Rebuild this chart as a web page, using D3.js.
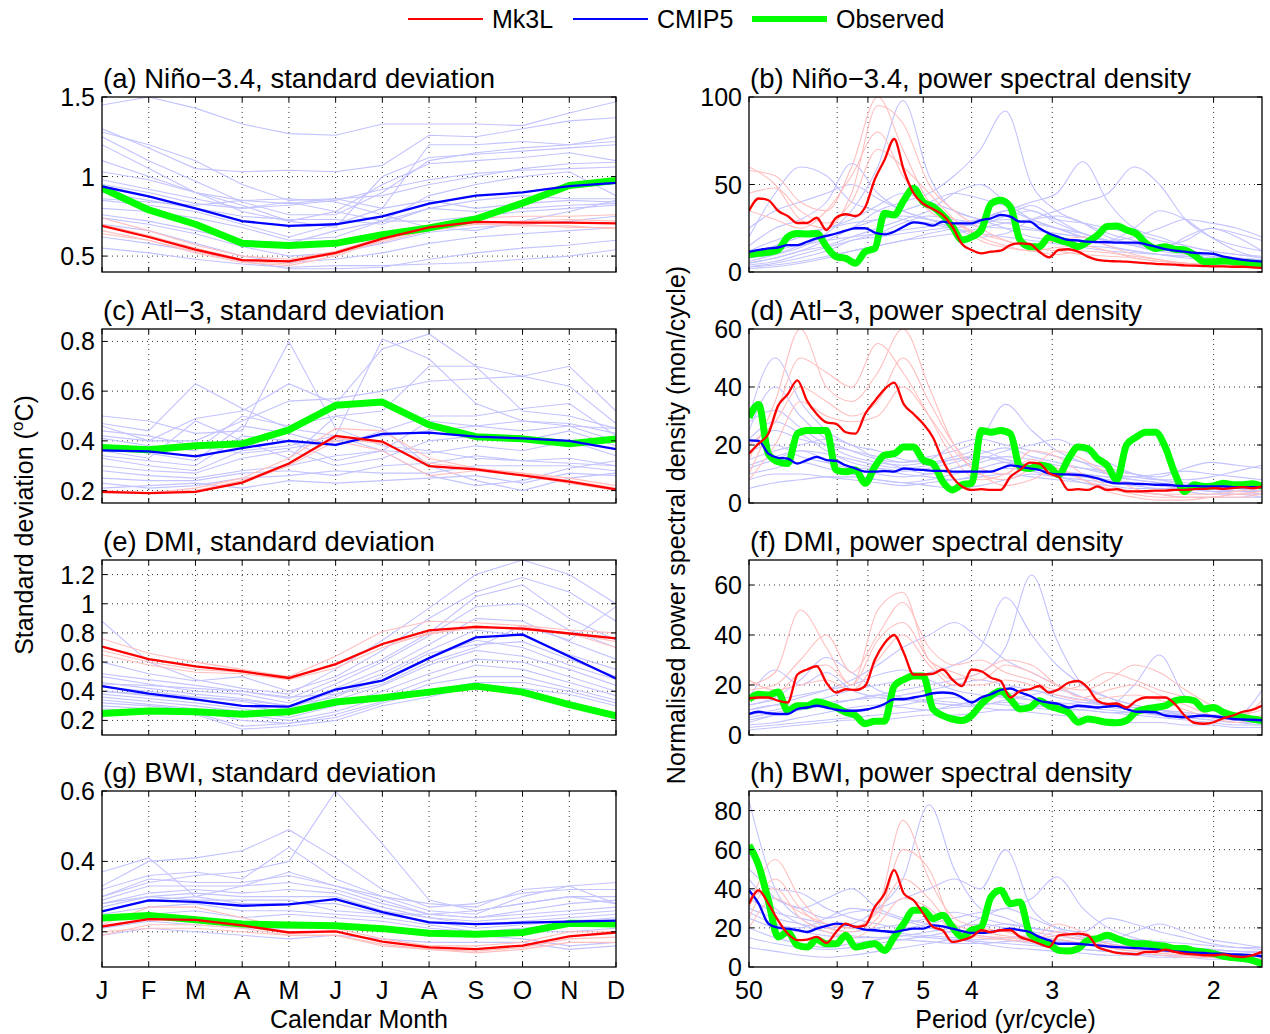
<!DOCTYPE html>
<html>
<head>
<meta charset="utf-8">
<title>Variability</title>
<script src="https://cdn.jsdelivr.net/npm/d3@7"></script>
<style>
  body { margin: 0; background: #fff; }
  svg { font-family: "Liberation Sans", Arial, Helvetica, sans-serif; }
</style>
</head>
<body>
<svg id="chart" width="1270" height="1034"></svg>
<script>
// ---- categories / ticks
var MONTHS = ["J","F","M","A","M","J","J","A","S","O","N","D"];
var PERIOD_TICKS = [50, 9, 7, 5, 4, 3, 2];
// frequency (cycles/yr) where spectra are sampled
var FREQ_FINE = [0.02,0.03,0.04,0.05,0.06,0.07,0.08,0.09,0.10,0.11,0.12,0.13,0.14,0.15,0.16,0.17,0.18,0.19,0.20,0.21,
  0.22,0.23,0.24,0.25,0.26,0.27,0.28,0.29,0.30,0.31,0.32,0.33,0.34,0.35,0.36,0.37,0.38,0.39,0.40,0.41,
  0.42,0.43,0.44,0.45,0.46,0.47,0.48,0.49,0.50,0.51,0.52,0.53,0.54,0.55];
var FREQ_COARSE = [0.02,0.047,0.073,0.1,0.126,0.153,0.179,0.206,0.232,0.259,0.285,0.312,0.338,0.365,0.391,0.418,0.444,0.471,0.497,0.524,0.55];

// ---- (a) Nino-3.4 std dev
var ninoSdObs   = [0.927,0.79,0.70,0.58,0.567,0.58,0.635,0.677,0.733,0.833,0.944,0.975];
var ninoSdCmip5 = [0.9375,0.875,0.80,0.72,0.69,0.70,0.75,0.83,0.88,0.90,0.94,0.96];
var ninoSdMk3l  = [0.69,0.62,0.54,0.475,0.467,0.52,0.61,0.68,0.715,0.71,0.71,0.706];
var ninoSdMembers = [
  [0.74,0.66,0.57,0.50,0.48,0.53,0.62,0.69,0.74,0.75,0.75,0.76],
  [0.66,0.60,0.52,0.46,0.44,0.50,0.60,0.67,0.70,0.70,0.68,0.68],
  [0.70,0.63,0.55,0.48,0.47,0.51,0.61,0.66,0.71,0.72,0.73,0.72],
  [0.64,0.60,0.53,0.47,0.45,0.52,0.59,0.66,0.70,0.69,0.69,0.67]];
var ninoSdModels = [
  [1.45,1.50,1.43,1.33,1.27,1.26,1.33,1.33,1.33,1.32,1.40,1.47],
  [1.30,1.18,1.05,1.03,1.04,1.03,1.07,1.26,1.25,1.30,1.35,1.37],
  [1.28,1.20,1.10,0.95,0.85,0.86,0.80,1.20,1.20,1.22,1.20,1.25],
  [1.25,1.10,0.97,0.84,0.76,0.76,0.90,1.10,1.15,1.18,1.20,1.22],
  [1.20,1.05,0.90,0.78,0.72,0.78,0.95,1.08,1.10,1.12,1.15,1.10],
  [1.03,0.98,0.90,0.85,0.83,0.86,0.88,0.95,1.00,1.05,1.08,1.09],
  [0.98,0.92,0.86,0.80,0.82,0.85,0.92,0.98,1.02,1.04,1.05,1.06],
  [0.95,0.90,0.83,0.80,0.84,0.78,0.72,0.88,0.95,1.00,1.03,0.88],
  [0.90,0.85,0.80,0.75,0.73,0.73,0.70,0.80,0.85,0.88,0.86,0.86],
  [0.85,0.82,0.78,0.70,0.62,0.70,0.80,0.85,0.80,0.83,0.85,0.84],
  [0.80,0.78,0.74,0.68,0.60,0.62,0.72,0.80,0.78,0.80,0.82,0.83],
  [0.76,0.72,0.66,0.60,0.58,0.66,0.72,0.72,0.75,0.78,0.80,0.82],
  [0.74,0.70,0.64,0.56,0.50,0.52,0.58,0.65,0.68,0.70,0.72,0.75],
  [0.70,0.66,0.58,0.50,0.46,0.48,0.52,0.58,0.62,0.64,0.66,0.68],
  [0.62,0.58,0.53,0.47,0.42,0.42,0.43,0.48,0.52,0.55,0.57,0.60],
  [0.55,0.52,0.48,0.45,0.43,0.44,0.44,0.45,0.46,0.48,0.50,0.54],
  [0.86,0.84,0.82,0.85,0.86,0.84,0.76,0.68,0.66,0.72,0.78,0.85],
  [1.10,1.00,0.90,0.82,0.72,0.68,1.00,1.12,1.14,1.16,1.18,1.20]];

// ---- (c) Atl-3 std dev
var atlSdObs   = [0.373,0.364,0.38,0.388,0.444,0.543,0.556,0.464,0.417,0.408,0.388,0.408];
var atlSdCmip5 = [0.362,0.358,0.338,0.371,0.40,0.384,0.428,0.433,0.417,0.41,0.40,0.367];
var atlSdMk3l  = [0.195,0.19,0.195,0.232,0.309,0.42,0.397,0.298,0.285,0.261,0.236,0.205];
var atlSdMembers = [
  [0.20,0.19,0.21,0.25,0.33,0.45,0.44,0.33,0.29,0.27,0.25,0.22],
  [0.19,0.19,0.20,0.23,0.30,0.40,0.36,0.26,0.28,0.26,0.23,0.20],
  [0.20,0.19,0.20,0.24,0.31,0.41,0.39,0.31,0.29,0.27,0.24,0.21]];
var atlSdModels = [
  [0.50,0.48,0.43,0.44,0.80,0.45,0.38,0.36,0.33,0.32,0.31,0.30],
  [0.47,0.44,0.63,0.53,0.45,0.42,0.81,0.73,0.55,0.48,0.46,0.45],
  [0.46,0.40,0.49,0.52,0.63,0.55,0.77,0.83,0.70,0.66,0.70,0.52],
  [0.42,0.40,0.40,0.48,0.56,0.57,0.60,0.64,0.65,0.66,0.62,0.47],
  [0.41,0.38,0.36,0.50,0.46,0.50,0.52,0.70,0.70,0.52,0.50,0.45],
  [0.38,0.35,0.32,0.46,0.43,0.38,0.44,0.50,0.50,0.53,0.55,0.42],
  [0.34,0.32,0.30,0.42,0.40,0.32,0.36,0.48,0.46,0.44,0.46,0.40],
  [0.30,0.28,0.27,0.33,0.36,0.30,0.33,0.40,0.42,0.40,0.44,0.38],
  [0.28,0.26,0.25,0.28,0.30,0.34,0.36,0.35,0.38,0.36,0.40,0.34],
  [0.25,0.24,0.24,0.27,0.28,0.26,0.30,0.31,0.34,0.32,0.33,0.30],
  [0.23,0.21,0.22,0.25,0.26,0.28,0.27,0.27,0.30,0.30,0.30,0.28],
  [0.21,0.22,0.23,0.21,0.24,0.23,0.24,0.25,0.26,0.23,0.27,0.26],
  [0.36,0.33,0.48,0.40,0.33,0.50,0.45,0.30,0.24,0.20,0.25,0.27],
  [0.33,0.30,0.28,0.36,0.38,0.42,0.36,0.26,0.22,0.24,0.29,0.32],
  [0.44,0.42,0.38,0.35,0.37,0.40,0.42,0.44,0.46,0.48,0.47,0.43]];

// ---- (e) DMI std dev
var dmiSdObs   = [0.247,0.265,0.259,0.243,0.259,0.326,0.356,0.394,0.435,0.394,0.308,0.232];
var dmiSdCmip5 = [0.435,0.383,0.345,0.30,0.295,0.412,0.473,0.627,0.769,0.789,0.638,0.487];
var dmiSdMk3l  = [0.706,0.62,0.57,0.536,0.491,0.586,0.724,0.818,0.841,0.83,0.796,0.762];
var dmiSdMembers = [
  [0.76,0.66,0.60,0.55,0.50,0.64,0.81,0.88,0.87,0.85,0.82,0.80],
  [0.65,0.58,0.53,0.52,0.48,0.56,0.70,0.80,0.83,0.84,0.80,0.70],
  [0.68,0.60,0.55,0.53,0.50,0.58,0.72,0.79,0.85,0.82,0.80,0.74]];
var dmiSdModels = [
  [0.88,0.60,0.48,0.42,0.38,0.55,0.75,0.97,1.20,1.30,1.20,1.00],
  [0.60,0.52,0.47,0.50,0.40,0.50,0.68,0.90,1.08,1.18,1.08,0.88],
  [0.52,0.48,0.44,0.40,0.35,0.48,0.62,0.80,1.05,1.13,0.90,0.75],
  [0.50,0.45,0.40,0.38,0.32,0.45,0.60,0.78,0.98,1.00,0.82,0.70],
  [0.46,0.42,0.38,0.35,0.30,0.42,0.55,0.72,0.90,0.88,0.74,0.62],
  [0.43,0.40,0.36,0.33,0.28,0.40,0.52,0.68,0.82,0.78,0.65,0.55],
  [0.40,0.37,0.34,0.30,0.26,0.38,0.48,0.63,0.75,0.70,0.58,0.48],
  [0.38,0.35,0.32,0.28,0.24,0.34,0.44,0.58,0.68,0.64,0.55,0.44],
  [0.36,0.33,0.30,0.26,0.22,0.30,0.40,0.52,0.62,0.60,0.50,0.40],
  [0.34,0.31,0.28,0.24,0.20,0.26,0.36,0.48,0.58,0.55,0.46,0.37],
  [0.32,0.30,0.27,0.20,0.18,0.24,0.33,0.45,0.50,0.50,0.42,0.34],
  [0.30,0.28,0.25,0.16,0.18,0.22,0.32,0.40,0.46,0.46,0.40,0.32],
  [0.28,0.26,0.24,0.14,0.16,0.20,0.30,0.36,0.44,0.42,0.38,0.30],
  [0.45,0.44,0.42,0.40,0.36,0.38,0.45,0.60,0.70,0.85,0.75,0.98],
  [0.40,0.38,0.36,0.34,0.30,0.36,0.50,0.66,0.72,0.74,0.62,0.50]];

// ---- (g) BWI std dev
var bwiSdObs   = [0.239,0.246,0.234,0.222,0.219,0.217,0.209,0.196,0.193,0.198,0.224,0.222];
var bwiSdCmip5 = [0.258,0.289,0.285,0.274,0.278,0.293,0.256,0.227,0.222,0.226,0.229,0.232];
var bwiSdMk3l  = [0.215,0.236,0.234,0.218,0.198,0.201,0.172,0.156,0.151,0.161,0.187,0.198];
var bwiSdMembers = [
  [0.19,0.22,0.22,0.21,0.19,0.19,0.16,0.15,0.14,0.15,0.17,0.17],
  [0.22,0.27,0.27,0.24,0.21,0.21,0.18,0.16,0.16,0.17,0.20,0.20],
  [0.20,0.21,0.21,0.20,0.19,0.19,0.165,0.15,0.145,0.155,0.18,0.185]];
var bwiSdModels = [
  [0.30,0.34,0.36,0.37,0.40,0.60,0.45,0.29,0.26,0.28,0.30,0.30],
  [0.37,0.41,0.30,0.33,0.37,0.33,0.30,0.28,0.27,0.32,0.33,0.34],
  [0.33,0.40,0.41,0.43,0.49,0.41,0.32,0.27,0.28,0.31,0.32,0.32],
  [0.32,0.36,0.37,0.35,0.44,0.35,0.30,0.26,0.25,0.30,0.33,0.28],
  [0.30,0.35,0.34,0.34,0.36,0.33,0.29,0.25,0.24,0.26,0.28,0.29],
  [0.29,0.33,0.33,0.33,0.34,0.32,0.28,0.25,0.24,0.25,0.26,0.27],
  [0.28,0.31,0.32,0.31,0.32,0.31,0.27,0.24,0.23,0.24,0.25,0.26],
  [0.27,0.30,0.31,0.30,0.30,0.30,0.26,0.24,0.22,0.23,0.24,0.25],
  [0.26,0.29,0.30,0.28,0.28,0.28,0.25,0.23,0.21,0.22,0.23,0.24],
  [0.25,0.27,0.28,0.26,0.26,0.25,0.24,0.22,0.20,0.21,0.22,0.23],
  [0.23,0.25,0.26,0.24,0.25,0.24,0.23,0.21,0.20,0.20,0.20,0.21],
  [0.21,0.23,0.22,0.21,0.21,0.22,0.21,0.20,0.19,0.18,0.16,0.17],
  [0.19,0.21,0.20,0.19,0.18,0.19,0.18,0.17,0.17,0.17,0.15,0.16],
  [0.28,0.30,0.29,0.29,0.29,0.26,0.25,0.25,0.26,0.28,0.30,0.28]];

// ---- (b) Nino-3.4 PSD (on FREQ_FINE)
var ninoPsdObs = [10,10.7,11.2,12.6,20,22,21.7,22,14.5,8.8, 7.8,5,11.6,13.5,33.5,32.6,41,47.8,40,37.3,
  32.6,26,18.3,20,24,39,41,37.3,18.3,14.5, 14.5,20,18.3,16.8,14.5,17.3,21,26,26.3,24,
  22,16.4,13.5,14.5,13,12.6,9.7,5.9,5.9,6.3, 5.9,5.5,5,4.4];
var ninoPsdCmip5 = [11.6,12.6,13.5,14,15.4,15.4,17.3,19.2,20.6,22, 23.6,25,25,22.5,21.5,23,26,28.4,27.8,26.5,
  28.8,27.8,27.8,27.8,29.7,30.7,32.6,31.6,28.8,28.8, 25,22,20,18.3,18,17.3,17.1,17,16.8,16.8,
  16.8,15.8,14.5,13.1,12.2,11.6,11,10.7,10.3,8.8, 7.8,6.9,6.3,5.9];
var ninoPsdMk3l = [35,42,41,35,32,28,28,31,24,31, 33,32,37,53,64,76,58,45,39,36,
  32.6,26,16,12.6,10.7,11.6,12.2,15.4,16.4,16, 11.6,8.4,12.6,13,11.6,8.8,6.9,6.3,6.1,5.9,
  5.5,5.1,4.6,4.4,4.2,3.8,3.6,3.4,3.2,3.2, 3,3,2.7,2.3];
// thin lines on FREQ_COARSE
var ninoPsdMembers = [
  [58,55,40,35,60,100,70,40,30,20,15,12,14,15,12,8,6,5,4,3,3],
  [60,50,30,25,45,95,85,50,35,25,18,14,12,10,9,8,6,5,4,3,3],
  [35,30,25,35,55,80,55,35,28,22,18,15,18,20,15,10,7,5,4,4,3],
  [45,48,35,28,40,70,60,45,30,18,14,12,10,12,11,9,7,5,4,3,2]];
var ninoPsdModels = [
  [8,10,14,22,35,60,98,55,35,30,25,20,18,15,14,12,10,9,8,7,6],
  [5,8,12,18,25,35,40,45,55,70,92,50,35,28,20,16,13,11,9,8,7],
  [20,45,60,55,40,35,30,28,25,30,35,40,45,63,40,25,20,15,12,10,9],
  [15,25,30,40,62,45,35,30,25,20,22,30,35,40,45,60,50,30,20,15,12],
  [10,15,20,25,30,38,45,40,35,30,28,25,22,20,18,16,15,18,25,22,18],
  [5,8,12,15,20,25,30,35,45,50,40,30,25,20,15,12,10,8,7,6,5],
  [3,5,8,12,18,22,28,32,30,28,32,38,30,22,18,15,12,10,8,6,5],
  [12,18,22,25,28,30,32,30,28,26,25,24,22,20,18,20,25,30,28,25,20],
  [4,6,10,14,18,20,22,24,26,30,35,30,25,20,18,16,14,12,10,8,7],
  [2,3,5,8,12,15,18,20,22,25,28,30,32,28,22,18,14,11,9,7,6],
  [6,10,15,18,20,22,24,26,28,30,32,35,28,22,18,25,35,30,20,12,8],
  [8,12,16,20,25,30,35,40,45,42,38,35,30,28,25,22,18,15,12,10,8],
  [25,35,40,45,50,42,35,30,25,22,20,18,16,14,12,11,10,9,8,7,6],
  [3,4,6,9,12,15,18,22,25,28,30,28,25,22,18,15,12,20,25,20,12]];

// ---- (d) Atl-3 PSD
var atlPsdObs = [29.5,34,17,14.2,13.6,23.9,25,25,25,11.4, 10.8,11.4,6.8,12.5,16.5,17,19.3,19.3,14.8,13.6,
  7.4,4.5,6.3,6.8,25,24.4,25,23.9,12.5,11.9, 13,12.5,9.7,15.3,19.3,18.8,15.3,13,8,20,
  22.7,24.4,24.4,19.3,10.2,4,6.3,5.7,5.9,6.8, 6.3,6.3,6.6,5.7];
var atlPsdCmip5 = [21.6,21.4,17,15.6,15.3,13.6,14.8,15.9,14.8,14.5, 13,11.9,10.8,10.8,11,10.8,11.9,11.6,11.4,11.1,
  11.1,10.8,10.8,10.8,10.8,10.8,11.9,13,12.5,11.9, 11.4,10.2,9.9,9.9,9.7,9.3,8.5,7.4,6.8,6.8,
  6.6,6.5,6.3,6.3,6,5.9,5.9,5.7,5.7,5.7, 5.5,5.5,5.5,5.5];
var atlPsdMk3l = [17,20.5,23.9,33.5,37.5,42.3,35.2,30.7,27.8,27.3, 24.4,23.9,30.7,35.2,39.2,41.5,34,30.7,27.3,22.7,
  14.8,9,5.7,4.5,4.8,4.5,4.5,9,11.4,13.9, 13.6,10.2,9,4.5,4.8,4.5,5.7,4.5,4.8,4,
  4,4.1,4.3,4.3,4.5,4.5,4.8,4.9,5.1,4.9, 5.1,5.5,5.1,5.7];
var atlPsdMembers = [
  [15,35,60,40,35,45,60,40,20,10,8,12,18,15,10,5,3,2,2,3,3],
  [10,30,50,45,40,55,45,30,15,8,10,15,12,8,5,3,2,2,2,2,3],
  [20,28,40,35,30,35,50,35,20,12,10,18,16,10,6,4,3,3,3,4,5],
  [8,20,35,30,28,30,40,30,18,10,6,8,12,8,4,2,1,1,2,3,4]];
var atlPsdModels = [
  [30,50,35,25,20,18,15,14,16,18,15,12,10,9,8,7,6,5,5,4,4],
  [25,40,30,22,18,15,14,16,18,22,34,25,18,14,10,8,7,6,6,5,5],
  [20,25,22,20,18,16,14,15,20,22,20,18,16,14,12,10,8,7,6,5,5],
  [15,18,20,22,20,15,12,10,12,15,18,20,22,18,14,10,8,6,5,4,4],
  [12,15,18,15,12,10,9,10,12,14,16,15,13,12,11,10,9,12,14,13,12],
  [10,12,14,12,10,8,7,8,10,12,14,12,10,9,8,7,6,5,4,3,3],
  [8,10,10,9,8,7,6,7,8,9,10,9,8,7,6,5,5,4,3,3,2],
  [18,20,16,14,12,12,11,12,14,16,15,13,11,10,9,9,10,11,10,9,8],
  [22,28,24,18,14,12,10,9,8,10,12,11,9,8,7,6,5,5,4,4,3],
  [5,7,8,9,9,8,7,6,5,6,8,10,9,7,5,4,3,2,2,2,2],
  [28,32,26,20,16,14,13,14,15,17,19,16,14,12,10,9,8,8,9,11,13],
  [13,16,18,17,15,13,12,13,15,16,14,12,11,10,9,8,7,6,6,5,4]];

// ---- (f) DMI PSD
var dmiPsdObs = [14.3,16.3,16,17.2,9.7,11.7,11.7,13.3,12.4,11, 9.1,7.8,4.5,5.5,5.5,19.6,22.2,23.6,23.6,10.4,
  7.8,6.4,5.8,7.8,12.4,15.7,17.6,14.3,10.4,11, 13.7,11.7,10.4,9.1,5.1,6.4,5.8,5.1,4.9,5.8,
  9.3,10.4,11,11.7,13.7,14.3,13.7,10.4,11,9.1, 7.8,7.1,6.4,5.8];
var dmiPsdCmip5 = [8.4,9.3,8.7,8.4,8.4,10.4,11,11.7,11,10.1, 9.7,9.7,10.1,11,12.4,14.3,14.3,15,15.7,16.7,
  17,16.7,15,13,15,16.3,18,18.6,17,15.7, 13.7,13,12.4,11,11.7,11.4,11,11.4,11.7,10.4,
  9.3,9.3,9.1,7.8,7.4,7.1,7.5,7.8,7.5,7, 6.4,6.2,6.1,5.9];
var dmiPsdMk3l = [14.7,15,15,13.7,13,24.2,26.2,27.5,20.9,17, 18.3,18,19.6,30.1,36.7,40,32.8,24.2,24.2,24.5,
  26.2,22.2,19.6,26.2,25.5,22.9,21.6,15,17.6,18.3, 19.6,17,18.3,20.9,21.6,18.9,13.7,12.4,12.6,11,
  13.7,15,15,15,12.4,7.8,4.9,4.5,5.1,6.7, 7.8,9.3,10.1,11.7];
var dmiPsdMembers = [
  [20,25,50,35,20,50,57,30,25,22,28,25,20,18,22,28,25,18,12,8,10],
  [18,20,30,40,25,40,53,35,28,30,25,22,18,20,25,22,18,15,10,8,12],
  [14,16,25,28,20,38,45,30,22,25,30,28,20,15,18,20,16,12,8,6,14],
  [22,18,20,22,18,30,40,28,20,20,22,20,16,14,15,16,14,10,7,5,8]];
var dmiPsdModels = [
  [10,12,15,18,22,28,35,40,45,38,30,25,20,15,12,10,8,7,6,5,5],
  [8,10,12,15,18,20,22,25,28,35,55,40,28,20,15,12,10,8,7,6,5],
  [5,8,10,12,14,16,18,20,22,25,35,64,38,20,15,12,10,8,7,6,5],
  [15,26,20,25,18,15,14,13,12,14,16,18,15,13,12,20,32,15,10,8,6],
  [12,15,22,31,25,18,15,13,12,11,10,11,12,13,12,11,10,9,8,8,18],
  [6,8,10,12,14,16,15,14,13,12,14,16,18,15,12,10,9,8,7,6,6],
  [4,5,7,9,11,12,11,10,12,14,16,14,12,11,10,9,8,7,6,5,4],
  [10,12,12,11,10,11,12,14,15,13,12,11,10,10,9,9,8,8,7,7,6],
  [3,4,5,6,7,8,9,10,11,12,13,12,11,10,9,8,7,6,5,4,4],
  [7,9,11,13,14,15,16,18,20,22,20,18,16,14,12,11,10,9,8,7,6],
  [2,3,4,5,6,6,7,8,8,9,10,9,8,7,6,5,5,4,4,3,3],
  [12,14,16,18,20,24,26,22,18,16,15,14,13,12,11,10,9,8,7,6,6]];

// ---- (h) BWI PSD
var bwiPsdObs = [62.3,52,34,15.4,17.9,11.1,10.2,14,11.9,11.9, 16.2,10.2,11.1,11.9,8.5,15.4,22.2,29,29,24.7,
  26.5,20.5,15.4,18.8,20.5,35.8,39.2,32.4,33.3,17.1, 13.7,11.9,8.5,8.2,9.4,13.7,14.5,16.2,14.5,12.8,
  11.9,11.9,11.1,10.6,9.4,9.4,8.2,7.7,6.8,5.5, 4.8,4.3,3.4,1.7];
var bwiPsdCmip5 = [39.2,32.4,22.2,20.1,19.6,18.8,17.9,19.6,21,22.2, 21.8,20.5,19.1,18.8,18.3,17.9,18.8,19.6,19.6,21.3,
  20.8,19.6,18.4,17.4,17.4,17.9,18.8,19.6,18.8,17.9, 15.4,13.7,11.9,11.9,11.9,11.4,11.1,10.6,10.2,9.9,
  9.7,9.4,9,8.5,8,7.7,7.3,7.2,6.8,6.8, 6.5,6.3,6,5.5];
var bwiPsdMk3l = [32.4,39.2,32.4,23.9,17.1,13.7,14,15.4,12.3,17.9, 22.2,20.5,21.3,30.7,37.5,49.5,37.5,34.1,27.3,20.5,
  18.8,12.8,13.7,15.4,18.8,17.9,18.8,18.8,15.4,13.7, 11.9,10.2,16.2,16.7,17.1,16.2,10.2,8.5,7.2,6.8,
  6.5,7.7,7.7,8.9,7.7,6.8,6.5,6,6,6.5, 5.5,5.1,6,7.7];
var bwiPsdMembers = [
  [30,55,35,22,20,30,75,45,25,20,18,15,22,18,12,10,8,7,6,5,4],
  [25,45,30,20,18,25,60,50,22,18,16,14,18,15,10,8,7,6,5,5,4],
  [20,35,28,22,20,28,45,35,20,16,15,14,16,14,11,9,7,6,5,4,3],
  [35,40,25,18,15,22,35,30,18,15,14,13,14,12,10,8,6,5,5,4,4]];
var bwiPsdModels = [
  [85,40,25,20,22,30,45,83,50,30,25,20,18,15,12,10,9,8,7,6,5],
  [60,35,30,25,28,30,35,40,45,40,60,30,20,15,12,10,9,8,7,6,5],
  [50,40,38,30,25,22,20,22,25,28,30,35,46,30,20,15,12,10,9,8,7],
  [40,35,30,35,40,30,25,22,20,25,30,25,20,18,25,22,18,15,12,10,9],
  [30,25,22,20,18,20,22,25,28,25,22,20,18,16,15,14,13,12,11,10,10],
  [25,20,18,16,15,15,16,18,20,22,20,18,16,14,13,12,11,10,9,8,8],
  [20,15,12,10,12,14,16,15,14,13,12,11,10,9,8,7,6,6,5,5,4],
  [35,28,25,22,20,18,17,16,15,14,15,16,14,12,11,10,9,8,7,6,6],
  [15,12,10,9,10,12,14,16,18,16,14,12,10,9,8,7,6,5,5,4,4],
  [45,30,22,18,16,15,14,13,12,12,13,14,13,12,11,10,9,8,7,6,5],
  [10,8,6,5,6,8,10,12,14,12,10,9,8,7,6,6,5,5,4,4,3],
  [28,22,20,25,30,28,24,20,18,20,22,20,18,16,14,18,22,18,14,12,10]];

// ---- layout
var COL = [[102, 616], [749, 1262]];
var ROW = [[97, 272], [329, 503], [560, 735], [791, 967]];
var FS = 25;      // tick / axis label size
var FS_TITLE = 27.5;

var panels = [
  {title: "(a) Niño\u22123.4, standard deviation", col: 0, row: 0, kind: "month", dom: [0.4, 1.5], ticks: [0.5, 1, 1.5],
   obs: ninoSdObs, cmip: ninoSdCmip5, mk3l: ninoSdMk3l, models: ninoSdModels, members: ninoSdMembers},
  {title: "(b) Niño\u22123.4, power spectral density", col: 1, row: 0, kind: "freq", dom: [0, 100], ticks: [0, 50, 100],
   obs: ninoPsdObs, cmip: ninoPsdCmip5, mk3l: ninoPsdMk3l, models: ninoPsdModels, members: ninoPsdMembers},
  {title: "(c) Atl\u22123, standard deviation", col: 0, row: 1, kind: "month", dom: [0.15, 0.85], ticks: [0.2, 0.4, 0.6, 0.8],
   obs: atlSdObs, cmip: atlSdCmip5, mk3l: atlSdMk3l, models: atlSdModels, members: atlSdMembers},
  {title: "(d) Atl\u22123, power spectral density", col: 1, row: 1, kind: "freq", dom: [0, 60], ticks: [0, 20, 40, 60],
   obs: atlPsdObs, cmip: atlPsdCmip5, mk3l: atlPsdMk3l, models: atlPsdModels, members: atlPsdMembers},
  {title: "(e) DMI, standard deviation", col: 0, row: 2, kind: "month", dom: [0.1, 1.3], ticks: [0.2, 0.4, 0.6, 0.8, 1, 1.2],
   obs: dmiSdObs, cmip: dmiSdCmip5, mk3l: dmiSdMk3l, models: dmiSdModels, members: dmiSdMembers},
  {title: "(f) DMI, power spectral density", col: 1, row: 2, kind: "freq", dom: [0, 70], ticks: [0, 20, 40, 60],
   obs: dmiPsdObs, cmip: dmiPsdCmip5, mk3l: dmiPsdMk3l, models: dmiPsdModels, members: dmiPsdMembers},
  {title: "(g) BWI, standard deviation", col: 0, row: 3, kind: "month", dom: [0.1, 0.6], ticks: [0.2, 0.4, 0.6],
   obs: bwiSdObs, cmip: bwiSdCmip5, mk3l: bwiSdMk3l, models: bwiSdModels, members: bwiSdMembers},
  {title: "(h) BWI, power spectral density", col: 1, row: 3, kind: "freq", dom: [0, 90], ticks: [0, 20, 40, 60, 80],
   obs: bwiPsdObs, cmip: bwiPsdCmip5, mk3l: bwiPsdMk3l, models: bwiPsdModels, members: bwiPsdMembers}
];

var svg = d3.select("#chart");
var defs = svg.append("defs");

panels.forEach(function(p, pi) {
  var x0 = COL[p.col][0], x1 = COL[p.col][1];
  var y0 = ROW[p.row][0], y1 = ROW[p.row][1];
  var x = p.kind === "month"
    ? d3.scaleLinear().domain([0, 11]).range([x0, x1])
    : d3.scaleLinear().domain([0.02, 0.55]).range([x0, x1]);   // linear in frequency = 1/period
  var y = d3.scaleLinear().domain(p.dom).range([y1, y0]);

  var g = svg.append("g");
  defs.append("clipPath").attr("id", "clip" + pi)
    .append("rect").attr("x", x0).attr("y", y0).attr("width", x1 - x0).attr("height", y1 - y0);

  // dotted grid
  var xGrid = p.kind === "month" ? d3.range(1, 11) : PERIOD_TICKS.slice(1).map(function(d) { return 1 / d; });
  g.selectAll(".vg").data(xGrid).enter().append("line")
    .attr("x1", function(d) { return x(d); }).attr("x2", function(d) { return x(d); })
    .attr("y1", y0).attr("y2", y1)
    .attr("stroke", "#000").attr("stroke-width", 0.8).attr("stroke-dasharray", "1,4");
  g.selectAll(".hg").data(p.ticks.filter(function(t) { return y(t) > y0 + 1 && y(t) < y1 - 1; })).enter().append("line")
    .attr("x1", x0).attr("x2", x1)
    .attr("y1", function(d) { return y(d); }).attr("y2", function(d) { return y(d); })
    .attr("stroke", "#000").attr("stroke-width", 0.8).attr("stroke-dasharray", "1,4");

  var plot = g.append("g").attr("clip-path", "url(#clip" + pi + ")");
  var fine = p.kind === "month" ? d3.range(12) : FREQ_FINE;
  var coarse = p.kind === "month" ? d3.range(12) : FREQ_COARSE;
  function mk(xs, curve) {
    return d3.line().x(function(d, i) { return x(xs[i]); }).y(function(d) { return y(d); }).curve(curve);
  }
  var curve = p.kind === "month" ? d3.curveLinear : d3.curveMonotoneX;

  plot.selectAll(".model").data(p.models).enter().append("path")
    .attr("d", mk(coarse, curve)).attr("fill", "none")
    .attr("stroke", "#c3c3ff").attr("stroke-width", 1.1);
  plot.selectAll(".member").data(p.members).enter().append("path")
    .attr("d", mk(coarse, curve)).attr("fill", "none")
    .attr("stroke", "#ffbfbf").attr("stroke-width", 1.1);
  plot.append("path").datum(p.obs).attr("d", mk(fine, curve)).attr("fill", "none")
    .attr("stroke", "#00ff00").attr("stroke-width", 7).attr("stroke-linejoin", "round");
  plot.append("path").datum(p.cmip).attr("d", mk(fine, curve)).attr("fill", "none")
    .attr("stroke", "#0000ff").attr("stroke-width", 2.3);
  plot.append("path").datum(p.mk3l).attr("d", mk(fine, curve)).attr("fill", "none")
    .attr("stroke", "#ff0000").attr("stroke-width", 2.3);

  // frame
  g.append("rect").attr("x", x0).attr("y", y0).attr("width", x1 - x0).attr("height", y1 - y0)
    .attr("fill", "none").attr("stroke", "#000").attr("stroke-width", 1.3);

  // y ticks
  var tl = 5;
  p.ticks.forEach(function(t) {
    var yy = y(t);
    g.append("line").attr("x1", x0).attr("x2", x0 + tl).attr("y1", yy).attr("y2", yy).attr("stroke", "#000");
    g.append("line").attr("x1", x1).attr("x2", x1 - tl).attr("y1", yy).attr("y2", yy).attr("stroke", "#000");
    g.append("text").attr("x", x0 - 7).attr("y", yy).attr("dy", "0.36em")
      .attr("text-anchor", "end").attr("font-size", FS).text(t);
  });
  // x ticks
  var xt = p.kind === "month" ? d3.range(12) : PERIOD_TICKS.map(function(d) { return 1 / d; });
  xt.forEach(function(t) {
    var xx = x(t);
    g.append("line").attr("x1", xx).attr("x2", xx).attr("y1", y1).attr("y2", y1 - tl).attr("stroke", "#000");
    g.append("line").attr("x1", xx).attr("x2", xx).attr("y1", y0).attr("y2", y0 + tl).attr("stroke", "#000");
  });
  if (p.row === 3) {
    g.selectAll(".xl").data(xt).enter().append("text")
      .attr("x", function(d) { return x(d); }).attr("y", y1 + 32)
      .attr("text-anchor", "middle").attr("font-size", FS)
      .text(function(d, i) { return p.kind === "month" ? MONTHS[i] : PERIOD_TICKS[i]; });
    g.append("text").attr("x", (x0 + x1) / 2).attr("y", y1 + 61)
      .attr("text-anchor", "middle").attr("font-size", FS)
      .text(p.kind === "month" ? "Calendar Month" : "Period (yr/cycle)");
  }

  g.append("text").attr("x", x0 + 1).attr("y", y0 - 9).attr("font-size", FS_TITLE).text(p.title);
});

// y axis labels
var yl1 = svg.append("text").attr("transform", "translate(33,525) rotate(-90)")
  .attr("text-anchor", "middle").attr("font-size", FS);
yl1.append("tspan").text("Standard deviation (");
yl1.append("tspan").attr("font-size", 17).attr("dy", -10).text("o");
yl1.append("tspan").attr("dy", 10).text("C)");
svg.append("text").attr("transform", "translate(685,525) rotate(-90)")
  .attr("text-anchor", "middle").attr("font-size", FS)
  .text("Normalised power spectral density (mon/cycle)");

// legend
var legend = [
  {label: "Mk3L", color: "#ff0000", w: 2, x: 408},
  {label: "CMIP5", color: "#0000ff", w: 2, x: 573},
  {label: "Observed", color: "#00ff00", w: 6, x: 752}
];
var lg = svg.append("g");
legend.forEach(function(d) {
  lg.append("line").attr("x1", d.x).attr("x2", d.x + 75).attr("y1", 19).attr("y2", 19)
    .attr("stroke", d.color).attr("stroke-width", d.w);
  lg.append("text").attr("x", d.x + 84).attr("y", 19).attr("dy", "0.36em")
    .attr("font-size", FS).text(d.label);
});
</script>
</body>
</html>
